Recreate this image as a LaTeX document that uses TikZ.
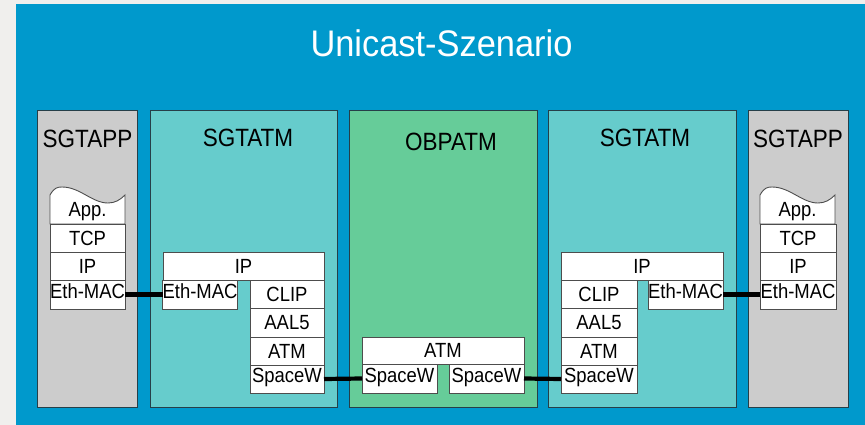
\documentclass[tikz,border=0pt]{standalone}
\usepackage{fontspec}
\setmainfont{Liberation Sans}
\newfontfamily\layerfont[FakeStretch=0.9]{Liberation Sans}
\newfontfamily\headfont[FakeStretch=0.9]{Liberation Sans}
\newfontfamily\titlefont[FakeStretch=0.93]{Liberation Sans}

\definecolor{pagebg}{HTML}{F0EFED}
\definecolor{seablue}{HTML}{0099CC}
\definecolor{appgray}{HTML}{CCCCCC}
\definecolor{atmteal}{HTML}{66CCCC}
\definecolor{obpgreen}{HTML}{66CC99}
\definecolor{panelline}{HTML}{263F48}
\definecolor{layerline}{HTML}{4D4D4D}

% panel: {name}{x1}{y1}{x2}{y2}{fill}
\newcommand\panelbox[6]{%
  \node[panel,fill=#6,minimum width={(#4-#2)*1pt},minimum height={(#5-#3)*1pt}]
    (#1) at ({(#2+#4)/2},{(#3+#5)/2}) {};}
% protocol layer: [style]{name}{x1}{y1}{x2}{y2}{text}
\newcommand\layerbox[7][]{%
  \node[layer,#1,minimum width={(#5-#3)*1pt},minimum height={(#6-#4)*1pt}]
    (#2) at ({(#3+#5)/2},{(#4+#6)/2}) {#7};}
% application layer with a torn (wavy) top edge, left edge at x
\newcommand\appbox[2]{%
  \draw[layerline,line width=0.9pt,fill=white,shift={(#2,0)}]
    (0,224) -- (0,195) .. controls (4,188) and (7,187) .. (12,187)
    .. controls (30,187) and (42,203) .. (58,203)
    .. controls (65,203) and (70,200) .. (75,195) -- (75,224) -- cycle;
  \node[headline,font=\layerfont\fontsize{20.5}{20.5}\selectfont] (#1) at ({#2+37.5},216) {App.};}

\begin{document}
\begin{tikzpicture}[x=1pt,y=-1pt,
  panel/.style={draw=panelline,line width=1pt,inner sep=0pt,outer sep=0pt},
  layer/.style={draw=layerline,line width=0.9pt,fill=white,inner sep=0pt,outer sep=0pt,
    font=\layerfont\fontsize{20.5}{20.5}\selectfont,text height=14pt,text depth=0pt},
  raised/.style={text depth=7pt},
  headline/.style={anchor=base,inner sep=0pt},
  boxtitle/.style={headline,font=\headfont\fontsize{25}{25}\selectfont},
  link/.style={line width=4.2pt,black}]

% page and blue scenario area
\fill[pagebg] (0,0) rectangle (865,425);
\useasboundingbox (0,0) rectangle (865,425);
\fill[seablue] (16,4) rectangle (865,425);
\node[headline,text=white,font=\titlefont\fontsize{37}{37}\selectfont] (title) at (441.5,57) {Unicast-Szenario};

% stations
\panelbox{appL}{37}{111}{137}{407}{appgray}
\panelbox{atmL}{150}{111}{337}{407}{atmteal}
\panelbox{obp}{349}{111}{537}{407}{obpgreen}
\panelbox{atmR}{548}{111}{736}{407}{atmteal}
\panelbox{appR}{748}{111}{848}{407}{appgray}

\node[boxtitle] (tAppL) at (87.5,148) {SGTAPP};
\node[boxtitle] (tAtmL) at (248,147) {SGTATM};
\node[boxtitle] (tObp) at (451,150) {OBPATM};
\node[boxtitle] (tAtmR) at (645,147) {SGTATM};
\node[boxtitle] (tAppR) at (798,148) {SGTAPP};

% left application terminal
\appbox{appL1}{50}
\layerbox{tcpL}{50}{224}{125}{252}{TCP}
\layerbox{ipL}{50}{252}{125}{280}{IP}
\layerbox[raised]{macL}{50}{280}{125}{309}{Eth-MAC}

% left ATM terminal
\layerbox{ipAL}{163}{252}{324}{280}{IP}
\layerbox[raised]{macAL}{163}{280}{237}{309}{Eth-MAC}
\layerbox{clipAL}{250}{280}{324}{308}{CLIP}
\layerbox{aalAL}{250}{308}{324}{337}{AAL5}
\layerbox{atmAL}{250}{337}{324}{365}{ATM}
\layerbox[raised]{swAL}{250}{365}{324}{393}{SpaceW}

% on-board processor
\layerbox{atmO}{362}{337}{524}{364}{ATM}
\layerbox[raised]{swO1}{362}{364}{437}{393}{SpaceW}
\layerbox[raised]{swO2}{449}{364}{524}{393}{SpaceW}

% right ATM terminal
\layerbox{ipAR}{561}{252}{723}{280}{IP}
\layerbox{clipAR}{561}{280}{637}{308}{CLIP}
\layerbox{aalAR}{561}{308}{637}{337}{AAL5}
\layerbox{atmAR}{561}{337}{637}{365}{ATM}
\layerbox[raised]{swAR}{561}{365}{637}{393}{SpaceW}
\layerbox[raised]{macAR}{648}{280}{723}{309}{Eth-MAC}

% right application terminal
\appbox{appR1}{760}
\layerbox{tcpR}{760}{224}{836}{252}{TCP}
\layerbox{ipR}{760}{252}{836}{280}{IP}
\layerbox[raised]{macR}{760}{280}{836}{309}{Eth-MAC}

% physical links
\draw[link] (macL.east) -- (macAL.west);
\draw[link] (swAL.east) -- (swO1.west);
\draw[link] (swO2.east) -- (swAR.west);
\draw[link] (macAR.east) -- (macR.west);
\end{tikzpicture}
\end{document}
